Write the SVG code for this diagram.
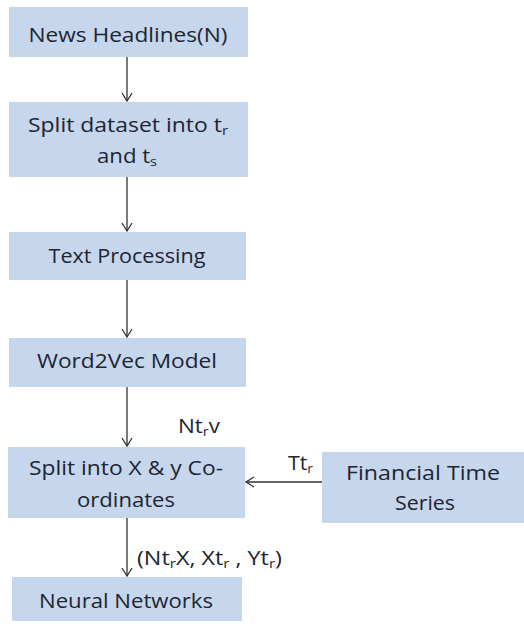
<svg xmlns="http://www.w3.org/2000/svg" width="524" height="624" viewBox="0 0 524 624">
<style>
.box{fill:#c6d6ec;}
.t{font-family:"Open Sans","Liberation Sans",Arial,sans-serif;font-size:20px;fill:#1d2533;text-anchor:middle;}
.l{font-family:"Open Sans","Liberation Sans",Arial,sans-serif;font-size:20px;fill:#1d2533;}
.c{stroke:#333;stroke-width:1.3;fill:none;}
</style>
<defs>
<marker id="ah" markerWidth="12" markerHeight="12" refX="10" refY="6" orient="auto" markerUnits="userSpaceOnUse">
<path d="M2,1 L10,6 L2,11" fill="none" stroke="#333" stroke-width="1.3"/>
</marker>
</defs>
<rect width="524" height="624" fill="#fff"/>
<g id="connectors">
<line class="c" x1="127" y1="57" x2="127" y2="101" marker-end="url(#ah)"/>
<line class="c" x1="127" y1="177" x2="127" y2="231" marker-end="url(#ah)"/>
<line class="c" x1="127" y1="280" x2="127" y2="337" marker-end="url(#ah)"/>
<line class="c" x1="127" y1="387" x2="127" y2="446" marker-end="url(#ah)"/>
<line class="c" x1="127" y1="518" x2="127" y2="576" marker-end="url(#ah)"/>
<line class="c" x1="322" y1="482" x2="246" y2="482" marker-end="url(#ah)"/>
<text class="l" x="178" y="433" textLength="42" lengthAdjust="spacingAndGlyphs">Nt<tspan font-size="13" dy="3">r</tspan><tspan dy="-3">v</tspan></text>
<text class="l" x="288" y="470" textLength="25" lengthAdjust="spacingAndGlyphs">Tt<tspan font-size="13" dy="3">r</tspan></text>
<text class="l" x="137" y="565" textLength="145" lengthAdjust="spacingAndGlyphs">(Nt<tspan font-size="13" dy="3">r</tspan><tspan dy="-3">X, Xt</tspan><tspan font-size="13" dy="3">r</tspan><tspan dy="-3"> , Yt</tspan><tspan font-size="13" dy="3">r</tspan><tspan dy="-3">)</tspan></text>
</g>
<g id="news">
<rect class="box" x="9" y="7" width="239" height="50"/>
<text class="t" x="128" y="42" textLength="199" lengthAdjust="spacingAndGlyphs">News Headlines(N)</text>
</g>
<g id="split-dataset">
<rect class="box" x="9" y="102" width="239" height="75"/>
<text class="t" x="128" y="132" textLength="200" lengthAdjust="spacingAndGlyphs">Split dataset into t<tspan font-size="13" dy="3">r</tspan></text>
<text class="t" x="127" y="163" textLength="60" lengthAdjust="spacingAndGlyphs">and t<tspan font-size="13" dy="3">s</tspan></text>
</g>
<g id="text-processing">
<rect class="box" x="9" y="232" width="237" height="48"/>
<text class="t" x="127" y="263" textLength="157" lengthAdjust="spacingAndGlyphs">Text Processing</text>
</g>
<g id="word2vec">
<rect class="box" x="9" y="338" width="237" height="49"/>
<text class="t" x="127" y="368" textLength="180" lengthAdjust="spacingAndGlyphs">Word2Vec Model</text>
</g>
<g id="split-xy">
<rect class="box" x="8" y="447" width="237" height="71"/>
<text class="t" x="126" y="475" textLength="194" lengthAdjust="spacingAndGlyphs">Split into X &amp; y Co-</text>
<text class="t" x="126" y="507" textLength="98" lengthAdjust="spacingAndGlyphs">ordinates</text>
</g>
<g id="financial">
<rect class="box" x="322" y="452" width="202" height="71"/>
<text class="t" x="423" y="480" textLength="154" lengthAdjust="spacingAndGlyphs">Financial Time</text>
<text class="t" x="425" y="510" textLength="60" lengthAdjust="spacingAndGlyphs">Series</text>
</g>
<g id="neural">
<rect class="box" x="12" y="577" width="230" height="44"/>
<text class="t" x="126" y="608" textLength="174" lengthAdjust="spacingAndGlyphs">Neural Networks</text>
</g>
</svg>
